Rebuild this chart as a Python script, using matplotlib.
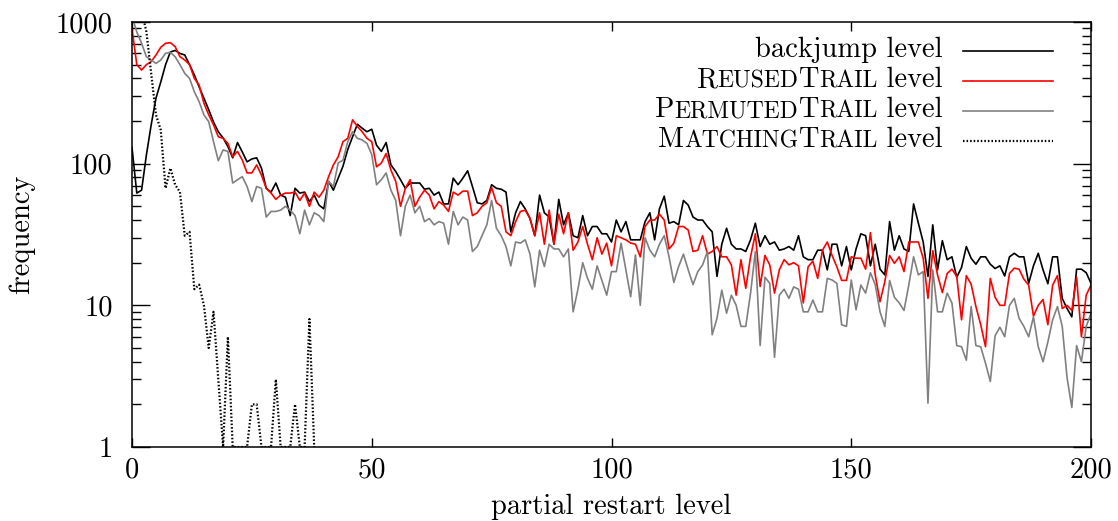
import numpy as np
import matplotlib
matplotlib.use('Agg')
import matplotlib.pyplot as plt
from matplotlib.offsetbox import TextArea, HPacker, AnchoredOffsetbox
from matplotlib.lines import Line2D
from matplotlib.ticker import LogLocator, NullFormatter

plt.rcParams['font.family'] = 'cmr10'
plt.rcParams['mathtext.fontset'] = 'cm'
plt.rcParams['axes.formatter.use_mathtext'] = True

#%% data
level = np.arange(0, 201)

backjump = [
    130, 62, 65, 115, 188, 290, 377, 500, 614, 630, 600, 585, 500, 423, 348, 290, 240, 197, 168, 152,
    132, 110, 141, 121, 103, 108, 110, 93, 67, 63, 73, 60, 58, 43, 67, 62, 63, 54, 60, 51,
    48, 75, 65, 79, 96, 126, 155, 190, 178, 168, 175, 135, 122, 141, 98, 88, 77, 67, 73, 73,
    73, 66, 67, 60, 63, 52, 52, 79, 71, 79, 89, 69, 53, 52, 55, 71, 67, 66, 63, 33,
    45, 54, 48, 41, 31, 60, 45, 42, 27, 56, 37, 45, 31, 30, 43, 31, 36, 36, 32, 32,
    28, 40, 33, 39, 29, 29, 29, 39, 45, 29, 48, 59, 38, 39, 37, 55, 51, 42, 40, 40,
    36, 33, 16, 27, 35, 27, 25, 25, 24, 29, 38, 26, 31, 27, 28, 24.5, 25, 26, 24.5, 31,
    22, 21, 21, 24.5, 24.5, 17.8, 27, 27, 19, 26, 17.8, 25, 32, 31, 19, 27, 18, 16.4, 39, 24.5,
    31, 25, 24, 52, 38, 28, 16, 37, 17.8, 28.6, 21, 22, 15.8, 18.5, 26, 21.5, 19.5, 22, 22, 19.5,
    18.2, 19, 16.1, 22, 23.3, 22, 22, 14.3, 19, 23.3, 17.8, 14.2, 22, 22, 11.2, 9.5, 8.3, 18, 18, 17,
    14.3]

reused = [
    900, 500, 458, 500, 525, 585, 663, 707, 715, 670, 569, 539, 500, 400, 359, 267, 221, 188, 155, 151,
    139, 112, 122, 106, 86, 86, 98, 83, 67, 62, 56, 60, 62, 62, 63, 55, 62, 50, 63, 58,
    65, 81, 98, 112, 143, 151, 204, 183, 168, 151, 143, 95, 101, 118, 90, 75, 50, 67, 77, 50,
    58, 65, 60, 48, 54, 51, 46, 63, 60, 64, 64, 43, 45, 50, 53, 68, 53, 50, 33, 31,
    39, 46, 47, 41, 31, 45, 27, 47, 27, 44, 32, 45, 24.5, 28, 36, 27, 21, 30, 23, 27.5,
    19, 31, 30, 29, 27.5, 27, 22, 36, 40, 40, 44, 40, 25, 27.5, 36, 36, 34, 24, 24.5, 31,
    23, 24, 26, 22, 22, 19.3, 11.8, 21, 13.2, 22, 32, 13.6, 22.5, 19.3, 12.2, 17.8, 21, 19.3, 20, 19,
    10.4, 18.7, 20.5, 15.5, 24.5, 28, 22.5, 18.7, 15, 15, 22, 21.5, 21.5, 18, 32.6, 16.4, 10.6, 14.7, 22.5, 19.8,
    22, 17.3, 28, 28, 28, 21.5, 11.2, 24.3, 16.4, 12.3, 16.8, 18, 16, 7.9, 16.2, 14.1, 9.8, 7.3, 5.1, 15.5,
    11.4, 10, 10, 16.8, 18.3, 18, 15.3, 13.9, 8.4, 10, 11, 7.3, 13.9, 16.2, 9.5, 10, 9.2, 15.8, 6, 11.8,
    13.9]

permuted = [
    1100, 850, 707, 569, 539, 510, 539, 601, 610, 569, 500, 434, 400, 322, 274, 221, 198, 143, 105, 125,
    122, 73, 77, 81, 69, 54, 69, 67, 42, 46, 46, 47, 50, 47, 43, 32, 47, 37, 45, 43,
    39, 75, 69, 101, 106, 143, 168, 151, 147, 139, 116, 71, 77, 86, 65, 55, 31, 50, 60, 45,
    50, 39, 41, 37, 39, 38, 27, 46, 37, 42, 40, 24, 26, 31, 37, 55, 35, 31, 26, 19,
    28, 27.5, 29, 23, 13.5, 24.5, 18.8, 27, 25, 25, 22, 25, 9, 13, 20, 15.5, 13, 19, 15, 11.8,
    17.3, 17.3, 27.5, 17.8, 11.5, 22.7, 10, 30, 24.5, 22, 27, 31, 22, 14.5, 18.8, 23, 17.8, 14, 17.3, 19.3,
    24, 6.2, 8.1, 12.8, 8.8, 11.8, 10, 7.1, 7.1, 12.2, 24, 5.2, 15.8, 14.3, 4.3, 11.8, 13, 11.2, 13.5, 13,
    9, 9, 10.9, 9, 9, 15.5, 15.1, 14.3, 7.3, 7.1, 15.1, 9.3, 13.9, 12.2, 17, 14, 9, 7.1, 15, 11.4,
    10.4, 9.2, 13.9, 22, 16.4, 17.3, 2.04, 17.8, 9, 9, 12.2, 10.4, 5.2, 5.1, 4.1, 9.8, 5.2, 5.1, 3.9, 2.9,
    6.1, 7, 6, 10, 11.2, 8.1, 7.1, 6, 8.3, 5.1, 4, 5.5, 7.9, 9.8, 7.1, 3.1, 1.9, 5.2, 4, 7.1,
    8.8]

matching_level = np.arange(0, 39)
matching = [
    5000, 2500, 1200, 855, 434, 221, 173, 67, 93, 71, 63, 31, 33, 13, 14, 10, 5, 9, 3, 1,
    6, 1, 1, 1, 1, 2, 2, 1, 1, 1, 3, 1, 1, 1, 2, 1, 1, 8, 1]

xticks = [0, 50, 100, 150, 200]
yticks = [1, 10, 100, 1000]
ytick_labels = ['1', '10', '100', '1000']

#%% plot
W, H = 1118, 521
FS = 20.5
fig = plt.figure(figsize=(W / 100, H / 100), dpi=100)
ax = fig.add_axes([132 / W, 1 - 447 / H, (1091 - 132) / W, (447 - 22) / H])

ax.plot(level, backjump, color='black', lw=1.2)
ax.plot(level, reused, color='#ff0000', lw=1.2)
ax.plot(level, permuted, color='#808080', lw=1.2)
ax.plot(matching_level, matching, color='black', lw=1.6, ls=(0, (0.7, 0.9)))

ax.set_yscale('log')
ax.set_xlim(0, 200)
ax.set_ylim(1, 1000)
ax.set_xticks(xticks)
ax.set_xticklabels([str(t) for t in xticks])
ax.set_yticks(yticks)
ax.set_yticklabels(ytick_labels)
ax.yaxis.set_minor_locator(LogLocator(base=10, subs=np.arange(2, 10)))
ax.yaxis.set_minor_formatter(NullFormatter())

ax.tick_params(which='both', direction='in', top=True, right=True, labelsize=FS, width=1.0)
ax.tick_params(axis='y', which='major', length=13, pad=14)
ax.tick_params(axis='y', which='minor', length=6.5)
ax.tick_params(axis='x', which='major', length=6.5, pad=7)
for sp in ax.spines.values():
    sp.set_linewidth(1.1)

ax.set_xlabel('partial restart level', fontsize=FS)
ax.set_ylabel('frequency', fontsize=FS)
ax.xaxis.set_label_coords(0.5, (447 - 494) / 425)
ax.yaxis.set_label_coords((35 - 132) / 959, 0.5)

# legend, drawn by hand for the small caps names
SMALL = 17
rows = [
    ([('backjump level', FS)], dict(color='black', lw=1.2)),
    ([('R', FS), ('EUSED', SMALL), ('T', FS), ('RAIL', SMALL), (' level', FS)], dict(color='#ff0000', lw=1.2)),
    ([('P', FS), ('ERMUTED', SMALL), ('T', FS), ('RAIL', SMALL), (' level', FS)], dict(color='#808080', lw=1.2)),
    ([('M', FS), ('ATCHING', SMALL), ('T', FS), ('RAIL', SMALL), (' level', FS)], dict(color='black', lw=1.6, ls=(0, (0.7, 0.9)))),
]
row_y = [51, 81, 111, 141]
for (parts, style), yp in zip(rows, row_y):
    kids = [TextArea(t, textprops=dict(fontsize=s)) for t, s in parts]
    box = HPacker(children=kids, align='baseline', pad=0, sep=0)
    anch = AnchoredOffsetbox(loc='center right', child=box, pad=0, borderpad=0, frameon=False,
                             bbox_to_anchor=(943 / W, 1 - (yp - 1) / H), bbox_transform=fig.transFigure)
    ax.add_artist(anch)
    fig.add_artist(Line2D([963 / W, 1053 / W], [1 - yp / H, 1 - yp / H], transform=fig.transFigure, **style))

fig.savefig('out.png', dpi=100)
